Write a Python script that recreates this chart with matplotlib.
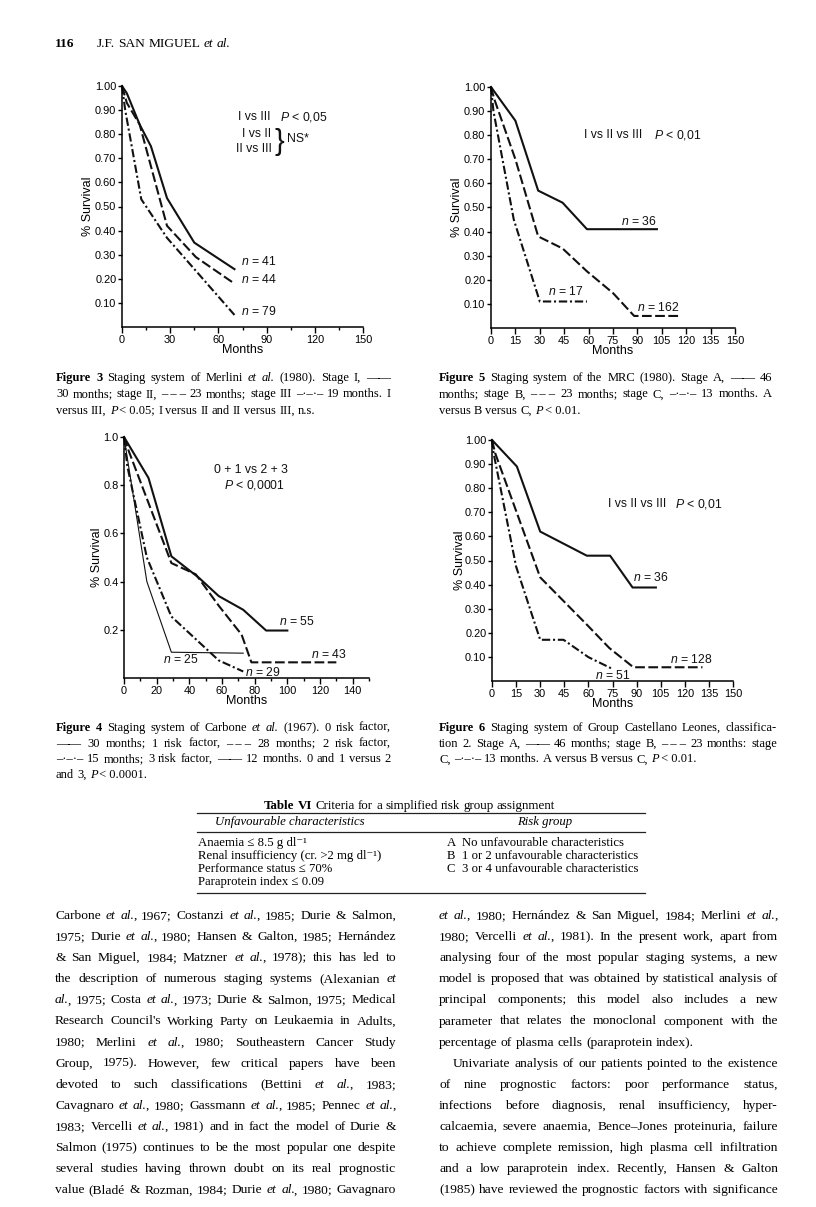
import matplotlib
matplotlib.use('Agg')
import matplotlib.pyplot as plt
from matplotlib.ticker import MultipleLocator, FormatStrFormatter
from matplotlib.transforms import IdentityTransform

W, H = 816, 1207
SERIF = ['Liberation Serif', 'DejaVu Serif']
SANS = ['Liberation Sans', 'DejaVu Sans']

plt.rcParams['font.family'] = SANS
plt.rcParams['mathtext.fontset'] = 'custom'
plt.rcParams['mathtext.it'] = 'Liberation Sans:italic'
plt.rcParams['mathtext.rm'] = 'Liberation Sans'
plt.rcParams['lines.scale_dashes'] = False

# ---- survival curves (months, proportion surviving) ----
# Figure 3, Merlini
f3_m_I = [0, 3, 11, 18, 28, 45, 70]
f3_s_I = [1.00, 0.97, 0.84, 0.75, 0.535, 0.35, 0.24]
f3_m_II = [0, 3, 11, 28, 46, 70]
f3_s_II = [1.00, 0.93, 0.84, 0.42, 0.29, 0.18]
f3_m_III = [0, 2, 12, 28, 70]
f3_s_III = [1.00, 0.90, 0.53, 0.37, 0.05]

# Figure 5, MRC
f5_m_A = [0, 15, 29, 44, 59, 102]
f5_s_A = [1.00, 0.86, 0.57, 0.52, 0.41, 0.41]
f5_m_B = [0, 2, 15, 29, 44, 59, 75, 88, 117]
f5_s_B = [1.00, 0.95, 0.70, 0.38, 0.33, 0.235, 0.145, 0.05, 0.05]
f5_m_C = [0, 1.5, 14, 30, 59]
f5_s_C = [1.00, 0.90, 0.45, 0.11, 0.11]

# Figure 4, Carbone (risk factors 0..3)
f4_m_0 = [0, 15, 29, 46, 58, 73, 87, 100]
f4_s_0 = [1.00, 0.83, 0.505, 0.415, 0.34, 0.283, 0.197, 0.197]
f4_m_1 = [0, 3, 29, 44, 58, 72, 78, 130]
f4_s_1 = [1.00, 0.94, 0.477, 0.43, 0.30, 0.18, 0.065, 0.065]
f4_m_2 = [0, 2, 14, 29, 58, 73]
f4_s_2 = [1.00, 0.88, 0.50, 0.255, 0.073, 0.027]
f4_m_3 = [0, 14, 29, 73]
f4_s_3 = [1.00, 0.40, 0.107, 0.103]

# Figure 6, Castellano Leones
f6_m_A = [0, 15.5, 30, 59, 73.5, 87.5, 102]
f6_s_A = [1.00, 0.89, 0.62, 0.52, 0.52, 0.388, 0.388]
f6_m_B = [0, 2, 30, 59, 73, 88, 131]
f6_s_B = [1.00, 0.945, 0.43, 0.234, 0.137, 0.057, 0.057]
f6_m_C = [0, 1, 15, 30, 44.5, 60, 75]
f6_s_C = [1.00, 0.945, 0.475, 0.171, 0.171, 0.099, 0.05]

ticks_2dp = [0.1, 0.2, 0.3, 0.4, 0.5, 0.6, 0.7, 0.8, 0.9, 1.0]
ticks_1dp = [0.2, 0.4, 0.6, 0.8, 1.0]

# ---- text of the page ('*' toggles italic, '#' toggles bold) ----
cap3 = ["#Figure 3#  Staging system of Merlini *et al.* (1980). Stage I, \u2014\u2014",
        "30 months; stage II, \u2013\u00a0\u2013\u00a0\u2013 23 months; stage III \u2013\u00b7\u2013\u00b7\u2013 19 months. I",
        "versus III, *P*\u00a0<\u00a00.05; I versus II and II versus III, n.s."]
cap5 = ["#Figure 5#  Staging system of the MRC (1980). Stage A, \u2014\u2014 46",
        "months; stage B, \u2013\u00a0\u2013\u00a0\u2013 23 months; stage C, \u2013\u00b7\u2013\u00b7\u2013 13 months. A",
        "versus B versus C, *P*\u00a0<\u00a00.01."]
cap4 = ["#Figure 4#  Staging system of Carbone *et al.* (1967). 0 risk factor,",
        "\u2014\u2014 30 months; 1 risk factor, \u2013\u00a0\u2013\u00a0\u2013 28 months; 2 risk factor,",
        "\u2013\u00b7\u2013\u00b7\u2013 15 months; 3 risk factor, \u2014\u2014 12 months. 0 and 1 versus 2",
        "and 3, *P*\u00a0<\u00a00.0001."]
cap6 = ["#Figure 6#  Staging system of Group Castellano Leones, classifica-",
        "tion 2. Stage A, \u2014\u2014 46 months; stage B, \u2013\u00a0\u2013\u00a0\u2013 23 months: stage",
        "C, \u2013\u00b7\u2013\u00b7\u2013 13 months. A versus B versus C, *P*\u00a0<\u00a00.01."]

table_left = ["Anaemia \u2264 8.5\u00a0g\u00a0dl\u207b\u00b9",
              "Renal insufficiency (cr. >2\u00a0mg\u00a0dl\u207b\u00b9)",
              "Performance status \u2264 70%",
              "Paraprotein index \u2264 0.09"]
table_right = ["A  No unfavourable characteristics",
               "B  1 or 2 unfavourable characteristics",
               "C  3 or 4 unfavourable characteristics"]

body_left = [
    "Carbone *et al.*, 1967; Costanzi *et al.*, 1985; Durie & Salmon,",
    "1975; Durie *et al.*, 1980; Hansen & Galton, 1985; Hern\u00e1ndez",
    "& San Miguel, 1984; Matzner *et al.*, 1978); this has led to",
    "the description of numerous staging systems (Alexanian *et*",
    "*al.*, 1975; Costa *et al.*, 1973; Durie & Salmon, 1975; Medical",
    "Research Council's Working Party on Leukaemia in Adults,",
    "1980; Merlini *et al.*, 1980; Southeastern Cancer Study",
    "Group, 1975). However, few critical papers have been",
    "devoted to such classifications (Bettini *et al.*, 1983;",
    "Cavagnaro *et al.*, 1980; Gassmann *et al.*, 1985; Pennec *et al.*,",
    "1983; Vercelli *et al.*, 1981) and in fact the model of Durie &",
    "Salmon (1975) continues to be the most popular one despite",
    "several studies having thrown doubt on its real prognostic",
    "value (Blad\u00e9 & Rozman, 1984; Durie *et al.*, 1980; Gavagnaro"]
body_right = [
    "*et al.*, 1980; Hern\u00e1ndez & San Miguel, 1984; Merlini *et al.*,",
    "1980; Vercelli *et al.*, 1981). In the present work, apart from",
    "analysing four of the most popular staging systems, a new",
    "model is proposed that was obtained by statistical analysis of",
    "principal components; this model also includes a new",
    "parameter that relates the monoclonal component with the",
    "percentage of plasma cells (paraprotein index).",
    "Univariate analysis of our patients pointed to the existence",
    "of nine prognostic factors: poor performance status,",
    "infections before diagnosis, renal insufficiency, hyper-",
    "calcaemia, severe anaemia, Bence\u2013Jones proteinuria, failure",
    "to achieve complete remission, high plasma cell infiltration",
    "and a low paraprotein index. Recently, Hansen & Galton",
    "(1985) have reviewed the prognostic factors with significance"]

fig = plt.figure(figsize=(W / 100, H / 100), dpi=100)
fig.patch.set_facecolor('white')
renderer = fig.canvas.get_renderer()


def T(x, y, s, **kw):
    # place text with page pixel coordinates (origin top-left)
    return fig.text(x / W, 1 - y / H, s, **kw)


def parse(line):
    words, runs, buf = [], [], ''
    it = bd = False
    for ch in line + ' ':
        if ch in '*#':
            if buf:
                runs.append((buf, it, bd))
                buf = ''
            if ch == '*':
                it = not it
            else:
                bd = not bd
        elif ch == ' ':
            if buf:
                runs.append((buf, it, bd))
                buf = ''
            if runs:
                words.append(runs)
                runs = []
        else:
            buf += ch
    return words


def rich_line(x, y, line, size, width=None, family=SERIF):
    # y is the baseline in page pixels; justify to width if given
    items, total = [], 0
    for runs in parse(line):
        ts, w = [], 0
        for k, (txt, it, bd) in enumerate(runs):
            t = fig.text(0, 0, txt, fontsize=size, family=family,
                         style='italic' if it else 'normal',
                         weight='bold' if bd else 'normal',
                         transform=IdentityTransform(), va='baseline')
            tw = t.get_window_extent(renderer).width
            if it and k < len(runs) - 1:
                tw -= 1.0  # italic overhang before a roman comma
            ts.append((t, tw))
            w += tw
        items.append((ts, w))
        total += w
    if width and len(items) > 1:
        gap = (width - total) / (len(items) - 1)
    else:
        gap = size * 100 / 72 * 0.25
    cx = x
    for ts, w in items:
        for t, tw in ts:
            t.set_position((cx, H - y))
            cx += tw
        cx += gap


def paragraph(x, y0, lines, size, width, step, last_plain=(), indent=()):
    for i, ln in enumerate(lines):
        dx = 14 if i in indent else 0
        w = None if i in last_plain else width - dx
        rich_line(x + dx, y0 + i * step, ln, size, w)


def make_axes(left, top, right, bottom, yticks, yfmt, xmajor, xminor, ylab_dx):
    ax = fig.add_axes([left / W, 1 - bottom / H, (right - left) / W, (bottom - top) / H])
    ax.set_xlim(0, 150)
    ax.set_ylim(0, 1.0)
    ax.patch.set_alpha(0)
    for s in ['top', 'right']:
        ax.spines[s].set_visible(False)
    for s in ['left', 'bottom']:
        ax.spines[s].set_linewidth(1.1)
    ax.xaxis.set_major_locator(MultipleLocator(xmajor))
    if xminor:
        ax.xaxis.set_minor_locator(MultipleLocator(xminor))
    ax.set_yticks(yticks)
    ax.yaxis.set_major_formatter(FormatStrFormatter(yfmt))
    ax.tick_params(which='both', direction='out', width=1, labelsize=7.9)
    ax.tick_params(axis='y', length=3, pad=1)
    ax.tick_params(axis='x', which='major', length=4, pad=2)
    ax.tick_params(axis='x', which='minor', length=2.5)
    ax.text(0.5, -0.095, 'Months', transform=ax.transAxes, ha='center', va='center',
            fontsize=9)
    ax.text(-ylab_dx / (right - left), 0.5, '% Survival', transform=ax.transAxes,
            rotation=90, ha='center', va='center', fontsize=9)
    return ax


solid = dict(color='#111111', lw=1.5, clip_on=False)
dashed = dict(color='#111111', lw=1.5, dashes=(7, 2.5), clip_on=False)
dashdot = dict(color='#111111', lw=1.5, dashes=(6, 2, 1.5, 2), clip_on=False)
thin = dict(color='#111111', lw=0.8, clip_on=False)
ann = dict(fontsize=8.8, va='center', color='#111111')

# ---- Figure 3 ----
ax = make_axes(122, 86, 363, 327, ticks_2dp, '%.2f', 30, 15, 34)
ax.plot(f3_m_I, f3_s_I, **solid)
ax.plot(f3_m_II, f3_s_II, **dashed)
ax.plot(f3_m_III, f3_s_III, **dashdot)
ax.text(72, 0.87, 'I vs III', **ann)
ax.text(98.5, 0.87, '$P$ < 0,05', **ann)
ax.text(93, 0.80, 'I vs II', ha='right', **ann)
ax.text(93, 0.74, 'II vs III', ha='right', **ann)
ax.text(95, 0.768, '}', fontsize=21, va='center', color='#111111')
ax.text(103, 0.78, 'NS*', **ann)
ax.text(74, 0.27, '$n$ = 41', **ann)
ax.text(74, 0.196, '$n$ = 44', **ann)
ax.text(74, 0.065, '$n$ = 79', **ann)

# ---- Figure 5 ----
ax = make_axes(491, 87, 735, 328, ticks_2dp, '%.2f', 15, None, 34)
ax.plot(f5_m_A, f5_s_A, **solid)
ax.plot(f5_m_B, f5_s_B, **dashed)
ax.plot(f5_m_C, f5_s_C, **dashdot)
ax.text(57, 0.80, 'I vs II vs III', **ann)
ax.text(100, 0.80, '$P$ < 0,01', **ann)
ax.text(80, 0.442, '$n$ = 36', **ann)
ax.text(35, 0.152, '$n$ = 17', **ann)
ax.text(90, 0.086, '$n$ = 162', **ann)

# ---- Figure 4 ----
ax = make_axes(124, 437, 369, 678, ticks_1dp, '%.1f', 20, 10, 27)
ax.plot(f4_m_0, f4_s_0, **solid)
ax.plot(f4_m_1, f4_s_1, **dashed)
ax.plot(f4_m_2, f4_s_2, **dashdot)
ax.plot(f4_m_3, f4_s_3, **thin)
ax.text(78, 0.864, '0 + 1 vs 2 + 3', ha='center', **ann)
ax.text(80, 0.80, '$P$ < 0,0001', ha='center', **ann)
ax.text(95, 0.235, '$n$ = 55', **ann)
ax.text(114.5, 0.096, '$n$ = 43', **ann)
ax.text(24, 0.075, '$n$ = 25', **ann)
ax.text(74, 0.023, '$n$ = 29', **ann)

# ---- Figure 6 ----
ax = make_axes(492, 440, 733, 681, ticks_2dp, '%.2f', 15, None, 32)
ax.plot(f6_m_A, f6_s_A, **solid)
ax.plot(f6_m_B, f6_s_B, **dashed)
ax.plot(f6_m_C, f6_s_C, **dashdot)
ax.text(72, 0.735, 'I vs II vs III', **ann)
ax.text(114, 0.735, '$P$ < 0,01', **ann)
ax.text(88, 0.431, '$n$ = 36', **ann)
ax.text(110.5, 0.089, '$n$ = 128', **ann)
ax.text(64, 0.023, '$n$ = 51', **ann)

# ---- running head ----
rich_line(55, 47, '#116#', 9.6)
rich_line(97, 47, 'J.F. SAN MIGUEL *et al.*', 9.6)

# ---- captions ----
paragraph(56, 381, cap3, 9.0, 335, 16.3, last_plain=(2,))
paragraph(439, 381, cap5, 9.0, 333, 16.3, last_plain=(2,))
paragraph(56, 731, cap4, 9.0, 335, 15.7, last_plain=(3,))
paragraph(439, 731, cap6, 9.0, 338, 15.7, last_plain=(2,))

# ---- Table VI ----
rich_line(264, 809, '#Table VI#  Criteria for a simplified risk group assignment', 9.4)
for yy in [813, 832, 893]:
    fig.add_artist(plt.Line2D([197 / W, 645 / W], [1 - yy / H, 1 - yy / H],
                              color='#222222', lw=0.9))
T(290, 822, 'Unfavourable characteristics', family=SERIF, style='italic',
  fontsize=9.2, ha='center', va='center')
T(545, 822, 'Risk group', family=SERIF, style='italic', fontsize=9.2,
  ha='center', va='center')
for i, s in enumerate(table_left):
    T(198, 843 + 13 * i, s, family=SERIF, fontsize=9.2, va='center')
for i, s in enumerate(table_right):
    T(447, 843 + 13 * i, s, family=SERIF, fontsize=9.2, va='center')

# ---- body text ----
paragraph(55, 919, body_left, 9.7, 341, 21.1)
paragraph(439, 919, body_right, 9.7, 339, 21.1, last_plain=(6,), indent=(7,))

fig.savefig('out.png', dpi=100, facecolor='white')
